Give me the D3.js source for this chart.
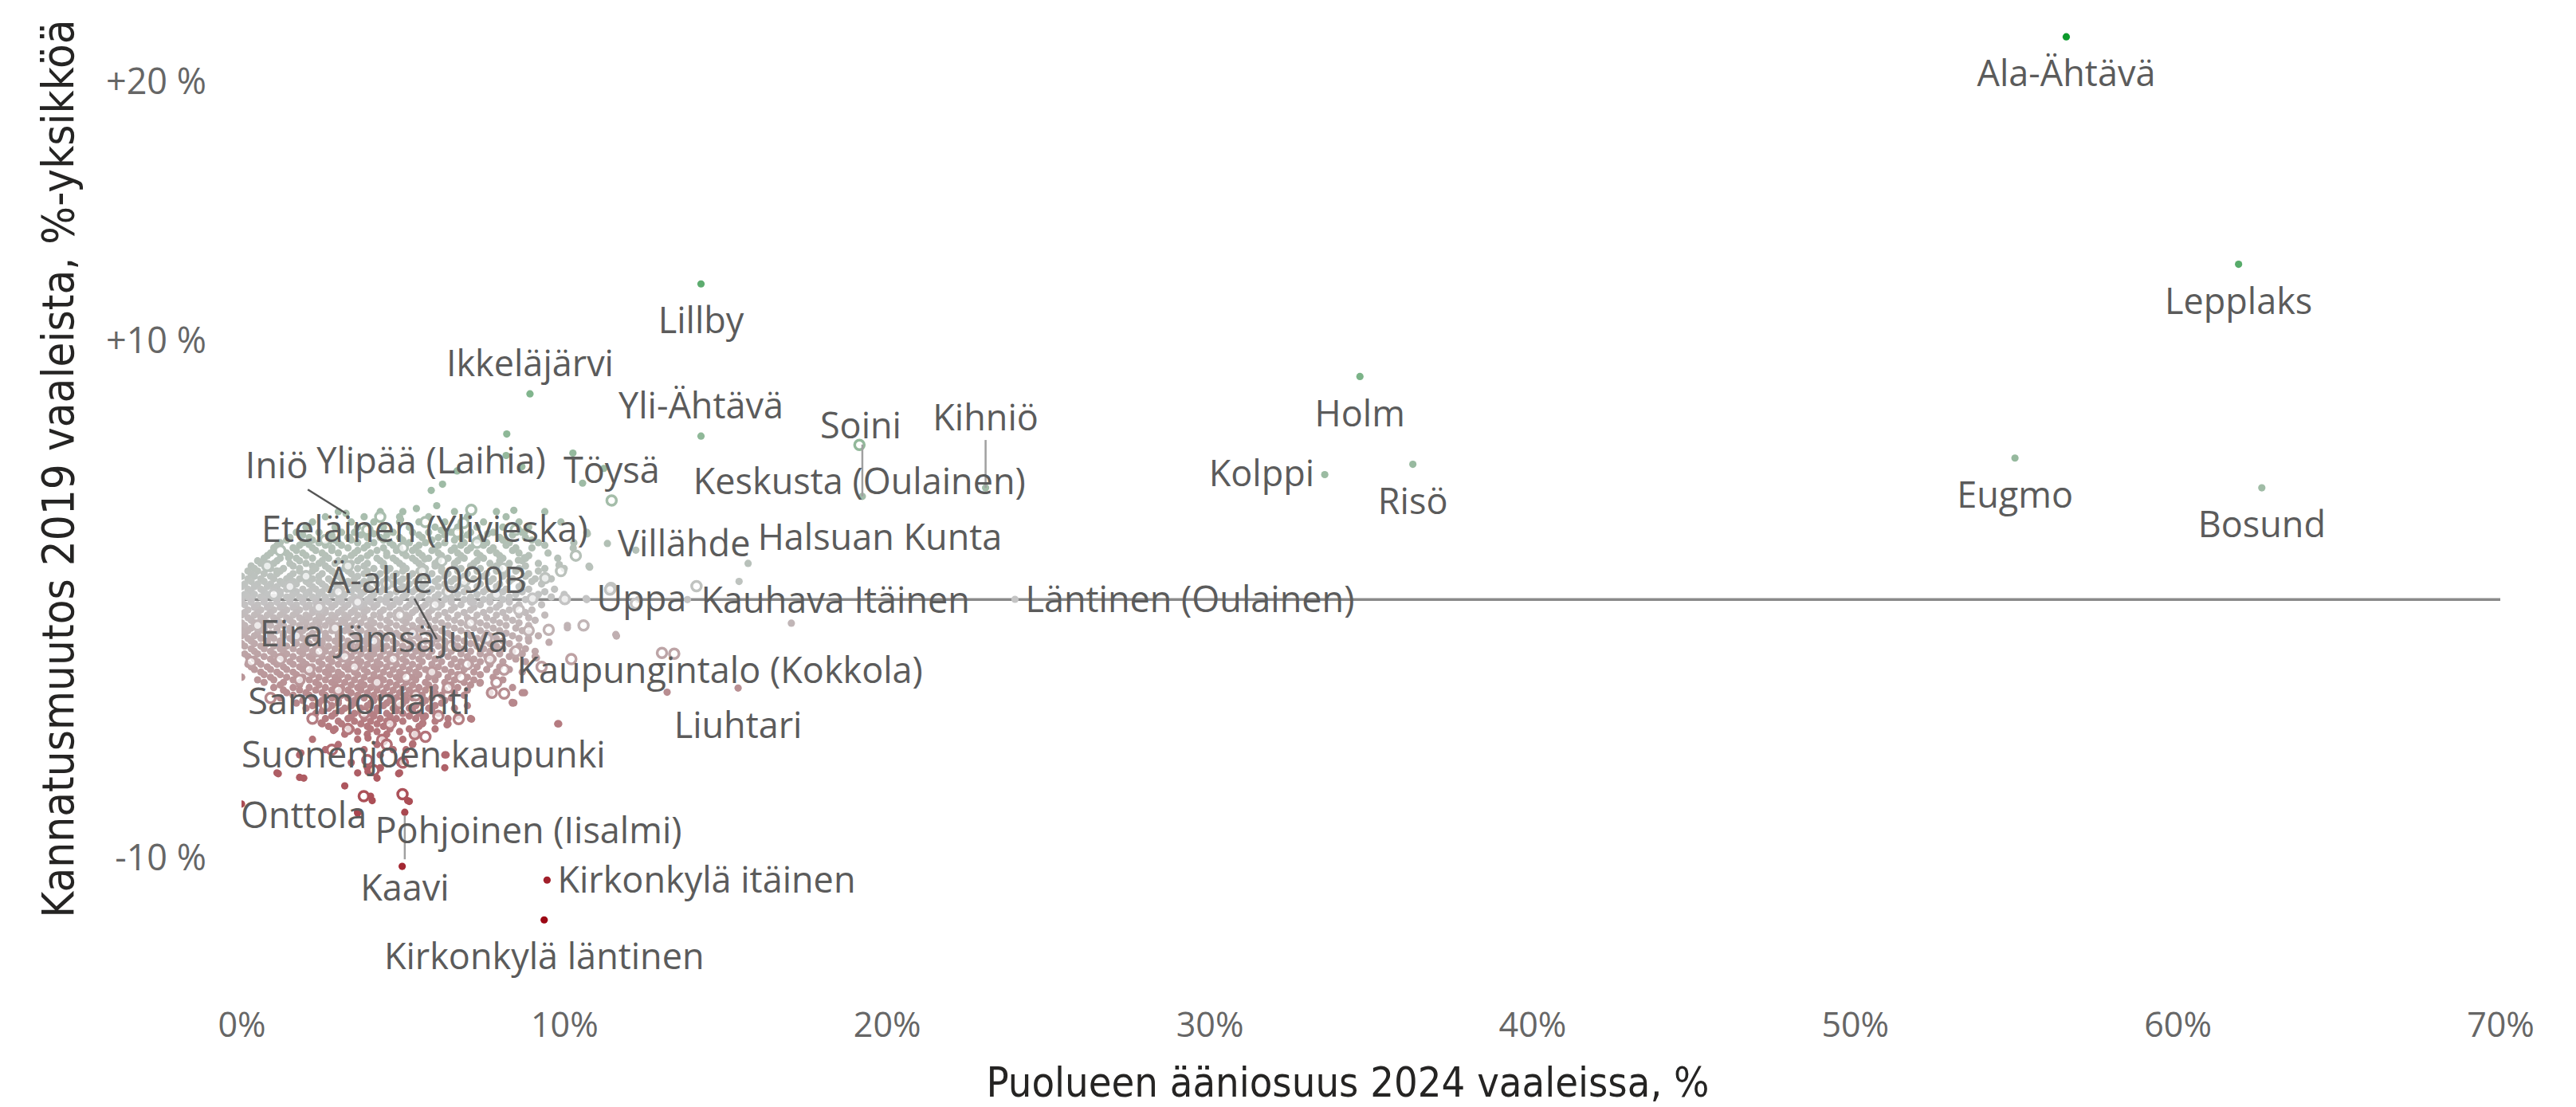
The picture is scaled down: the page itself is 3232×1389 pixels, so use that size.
<!DOCTYPE html>
<html>
<head>
<meta charset="utf-8">
<script src="https://cdnjs.cloudflare.com/ajax/libs/d3/7.8.5/d3.min.js"></script>
<style>
  html, body { margin: 0; padding: 0; background: #fff; }
  svg { display: block; }
  .axis-title { font-family: "DejaVu Sans Condensed", "DejaVu Sans", sans-serif; fill: #252423; }
  .pt-label { font-family: "Segoe UI", "Open Sans", sans-serif; fill: #5b5b5b; font-size: 45px; }
</style>
</head>
<body>
<div class="chart"></div>
<script>
// ---------------- data ----------------
var xTicks = [0, 10, 20, 30, 40, 50, 60, 70];
var yTicks = [-10, 0, 10, 20];

// named precincts (x = party share 2024 %, y = change since 2019, %-points)
var names = ["Ala-Ähtävä", "Lepplaks", "Eugmo", "Bosund", "Holm", "Risö", "Kolppi", "Lillby",
  "Ikkeläjärvi", "Yli-Ähtävä", "Soini", "Kihniö", "Keskusta (Oulainen)", "Töysä", "Iniö",
  "Ylipää (Laihia)", "Eteläinen (Ylivieska)", "Villähde", "Halsuan Kunta", "Ä-alue 090B", "Uppa",
  "Kauhava Itäinen", "Läntinen (Oulainen)", "Eira", "Jämsä", "Juva", "Kaupungintalo (Kokkola)",
  "Sammonlahti", "Liuhtari", "Suonenjoen kaupunki", "Onttola", "Pohjoinen (Iisalmi)", "Kaavi",
  "Kirkonkylä itäinen", "Kirkonkylä läntinen"];
var share2024 = [56.55, 61.89, 54.96, 62.61, 34.66, 36.30, 33.57, 14.24,
  8.94, 14.24, 19.24, 23.06, 19.15, 11.47, 3.24,
  5.88, 5.68, 11.34, 15.70, 6.05, 10.68,
  13.82, 23.97, 1.55, 4.47, 7.19, 8.14,
  3.65, 15.39, 5.64, 1.93, 4.99, 5.06,
  9.47, 9.38];
var change2019 = [21.75, 12.96, 5.47, 4.32, 8.62, 5.23, 4.83, 12.2,
  7.95, 6.32, 3.99, 4.32, 5.98, 3.83, 3.33,
  4.22, 1.57, 2.17, 1.40, -1.53, 0.04,
  0.0, 0.01, 0.12, -0.1, -0.1, -2.71,
  -2.5, -3.42, -4.56, -6.9, -7.52, -8.22,
  -10.84, -12.38];

// unlabeled outliers around the cloud [x, y]
var outlierDots = [[8.22,6.40],[8.2,5.57],[6.68,4.97],[8.69,5.14],[10.57,4.5],[11.23,5.07],[10.27,5.66],
  [6.23,4.46],[6.05,3.63],[5.42,3.52],[8.44,3.45],[12.22,1.91],[10.77,1.29],[9.85,1.35],[8.8,1.6],
  [8.58,1.52],[15.42,0.70],[11.62,-1.41],[10.1,-1.09],[9.14,-2.25],[13.19,-3.58],[9.83,-4.8],
  [8.44,-3.99],[17.04,-0.91],[4.98,-10.31],[3.6,-8.25],[0,-7.9],[4.05,-7.77],[5.15,-7.77],
  [1.14,-6.73],[1.8,-6.87],[4.87,-6.73],[4.3,-6.51],[3.92,-6.65],[6.34,-6.0],[5.31,-5.57],
  [3.92,-5.35],[3.35,-4.99],[2.85,-5.06],[2.47,-4.77],[1.84,-5.93],[7.13,-4.62],[6.37,-4.84],
  [5.62,-4.77],[7.39,-3.23],[8.39,-3.97],[8.77,-3.6],[8.89,-1.5],[9.53,-1.65],[9.4,0.82],
  [9.84,1.33],[10.79,1.25],[8.77,1.62],[0,-3.0],[0,-1.2],[1.46,1.62],[1.09,1.11],[2.09,2.13],
  [2.72,2.26],[3.35,2.4],[4.1,2.54],[4.93,3.09],[6.19,2.68],[7.63,2.54],[8.77,2.6],[10.28,1.99],
  [10.72,2.54],[11.6,-1.35]];

// bigger precincts drawn as rings [x, y]
var ringPts = [[7.12,3.47],[10.36,1.70],[6.88,2.96],[9.41,0.83],[14.1,0.52],[11.45,0.45],[9.02,0.04],
  [10.02,0.02],[12.22,-0.16],[9.52,-1.17],[11.42,0.39],[10.22,-2.3],[7.76,-3.6],[8.14,-3.63],
  [6.73,-4.62],[5.37,-5.2],[4.36,-5.42],[3.79,-7.6],[13.03,-2.06],[13.41,-2.09],
  [1.2,1.9],[2.6,2.3],[3.9,2.7],[5.0,2.0],[6.2,1.5],[7.3,2.2],[8.1,1.2],[2.0,0.9],[3.3,1.3],
  [4.5,0.6],[5.6,1.1],[6.9,0.7],[7.9,0.2],[8.6,-0.4],[1.0,0.2],[2.4,-0.3],[3.6,-0.1],[4.9,-0.6],
  [6.0,-0.2],[7.1,-0.9],[0.5,-1.0],[1.7,-1.4],[2.9,-1.1],[4.1,-1.6],[5.3,-1.3],[6.5,-1.8],
  [7.6,-1.5],[8.5,-2.0],[1.2,-2.3],[2.4,-2.0],[3.5,-2.6],[4.7,-2.3],[5.9,-2.8],[7.0,-2.5],
  [7.9,-3.2],[1.8,-3.1],[3.0,-3.5],[4.2,-3.2],[5.4,-3.7],[6.4,-3.4],[2.6,-4.1],[3.8,-4.4],
  [4.9,-4.0],[6.1,-4.5],[3.3,-5.0],[4.5,-5.6],[5.7,-5.3],[3.9,-6.2],[5.0,-6.3],[4.1,-6.6],
  [2.8,-5.8],[0.9,-3.8],[0.3,-2.4],[8.9,-1.2],[9.3,-2.6],[10.6,-1.0],[9.9,1.1],[0.8,1.3],
  [4.3,3.2],[5.7,3.0],[6.7,2.6],[8.5,2.7],[2.2,-4.6],[4.6,-4.8],[6.8,-3.0],[3.2,-2.2],
  [5.1,-3.0],[1.5,0.5],[3.0,0.3],[6.4,0.3],[7.7,-2.3],[2.1,-2.7]];

// dense cloud of small precincts, one row per y value: [y, [x, x, ...]]
var cloudRows = [
  [3.4, [3.0, 4.3, 5.0, 6.6, 7.9, 9.4]],
  [3.2, [2.6, 3.8, 4.9, 5.8, 7.0, 8.2]],
  [3.0, [2.2, 3.4, 4.1, 4.9, 5.5, 6.3, 7.5, 8.6, 9.9]],
  [2.8, [2.0, 2.9, 3.6, 4.4, 5.2, 6.0, 6.7, 7.3, 8.1, 8.9]],
  [2.6, [1.7, 2.4, 3.1, 3.5, 4.0, 4.7, 5.3, 5.8, 6.5, 7.1, 7.8, 8.7, 10.7]],
  [2.5, [1.9, 2.8, 3.7, 4.5, 5.5, 6.3, 7.0, 8.4]],
  [2.4, [1.5, 2.1, 2.7, 3.3, 3.9, 4.3, 4.9, 5.6, 6.1, 6.8, 7.4, 8.0, 8.8]],
  [2.3, [1.4, 2.2, 2.9, 3.4, 4.4, 5.0, 5.9, 6.6, 7.3, 8.1, 9.0]],
  [2.2, [1.2, 1.9, 2.4, 3.0, 3.6, 4.1, 4.6, 5.2, 5.7, 6.3, 6.9, 7.6, 8.3, 9.2, 10.3]],
  [2.1, [1.1, 1.8, 2.6, 3.1, 3.9, 4.7, 5.5, 6.1, 6.8, 7.5, 8.2, 9.4]],
  [2.0, [1.0, 1.6, 2.2, 2.8, 3.3, 3.8, 4.4, 4.9, 5.4, 6.0, 6.6, 7.1, 7.8, 8.5, 9.0]],
  [1.9, [1.0, 1.7, 2.3, 2.8, 3.6, 4.2, 4.8, 5.3, 5.9, 6.5, 7.0, 7.7, 8.4]],
  [1.8, [0.9, 1.4, 1.9, 2.5, 3.0, 3.5, 4.0, 4.5, 5.0, 5.5, 6.1, 6.7, 7.3, 7.9, 8.6, 9.5]],
  [1.7, [0.8, 1.5, 2.0, 2.6, 3.4, 3.9, 4.5, 5.1, 5.6, 6.2, 6.8, 7.4, 8.0, 8.9]],
  [1.6, [0.7, 1.2, 1.7, 2.2, 2.7, 3.2, 3.7, 4.2, 4.7, 5.3, 5.8, 6.4, 6.9, 7.5, 8.1, 8.8, 9.8]],
  [1.5, [0.5, 1.1, 1.8, 2.5, 3.0, 3.6, 4.3, 4.8, 5.4, 6.1, 6.7, 7.3, 8.0, 8.7]],
  [1.4, [0.6, 1.0, 1.5, 2.0, 2.4, 2.9, 3.4, 3.9, 4.4, 4.9, 5.5, 6.0, 6.6, 7.2, 7.7, 8.3, 9.2]],
  [1.3, [0.3, 0.8, 1.6, 2.2, 2.6, 3.3, 3.8, 4.4, 5.0, 5.6, 6.0, 6.6, 7.1, 7.9, 8.8]],
  [1.2, [0.4, 0.9, 1.3, 1.8, 2.3, 2.7, 3.2, 3.6, 4.1, 4.6, 5.1, 5.7, 6.2, 6.8, 7.4, 8.0, 8.6, 9.4, 10.0]],
  [1.1, [0.2, 0.5, 1.2, 1.8, 2.2, 2.8, 3.3, 3.9, 4.5, 5.0, 5.5, 6.2, 6.7, 7.3, 7.9, 8.5, 9.2]],
  [1.0, [0.3, 0.7, 1.1, 1.6, 2.0, 2.5, 2.9, 3.4, 3.8, 4.3, 4.8, 5.3, 5.9, 6.4, 7.0, 7.6, 8.2, 8.9]],
  [0.9, [0.0, 0.4, 0.9, 1.5, 2.0, 2.4, 3.0, 3.6, 4.2, 4.7, 5.2, 5.7, 6.3, 6.9, 7.5, 8.1, 8.8]],
  [0.8, [0.2, 0.6, 1.0, 1.4, 1.8, 2.2, 2.7, 3.1, 3.5, 4.0, 4.5, 5.0, 5.5, 6.1, 6.6, 7.2, 7.8, 8.4, 9.1, 9.6]],
  [0.7, [0.3, 0.7, 1.2, 1.6, 2.0, 2.4, 2.8, 3.3, 3.8, 4.4, 4.9, 5.4, 6.0, 6.5, 7.0, 7.7, 8.3, 9.0]],
  [0.6, [0.1, 0.5, 0.9, 1.3, 1.7, 2.1, 2.5, 2.9, 3.3, 3.7, 4.2, 4.7, 5.2, 5.7, 6.3, 6.8, 7.4, 8.0, 8.7, 9.3]],
  [0.5, [0.0, 0.4, 0.8, 1.1, 1.5, 2.2, 2.6, 3.0, 3.5, 3.9, 4.5, 5.0, 5.6, 6.1, 6.7, 7.3, 7.9, 8.6]],
  [0.4, [0.2, 0.6, 1.0, 1.4, 1.9, 2.3, 2.7, 3.1, 3.6, 4.0, 4.4, 4.9, 5.4, 5.9, 6.5, 7.0, 7.6, 8.2, 8.9, 9.7, 11.4]],
  [0.3, [0.3, 0.7, 1.2, 1.7, 2.1, 2.5, 2.9, 3.4, 3.8, 4.3, 4.8, 5.3, 5.8, 6.3, 6.9, 7.5, 8.1, 8.7, 9.4]],
  [0.2, [0.1, 0.4, 0.8, 1.2, 1.6, 2.0, 2.4, 2.8, 3.2, 3.7, 4.1, 4.6, 5.1, 5.6, 6.1, 6.7, 7.3, 7.9, 8.5, 9.2, 10.0]],
  [0.1, [0.2, 0.6, 1.0, 1.4, 1.8, 2.2, 2.6, 3.1, 3.5, 4.0, 4.5, 5.0, 5.5, 6.0, 6.5, 7.1, 7.7, 8.3, 9.0, 9.6]],
  [0.0, [0.0, 0.3, 0.7, 1.1, 1.5, 1.9, 2.3, 2.6, 3.0, 3.4, 3.9, 4.3, 4.8, 5.3, 5.8, 6.3, 6.9, 7.5, 8.1, 8.8, 10.0, 10.7, 12.3]],
  [-0.1, [0.0, 0.3, 0.7, 1.1, 1.5, 1.9, 2.3, 2.7, 3.1, 3.6, 4.0, 4.5, 4.9, 5.4, 6.0, 6.5, 7.1, 7.7, 8.3, 9.0]],
  [-0.2, [0.1, 0.5, 0.9, 1.3, 1.7, 2.1, 2.5, 2.9, 3.3, 3.8, 4.2, 4.7, 5.2, 5.7, 6.2, 6.8, 7.4, 8.0, 8.6, 9.3]],
  [-0.3, [0.4, 0.8, 1.2, 1.6, 2.0, 2.4, 2.8, 3.2, 3.7, 4.1, 4.6, 5.1, 5.6, 6.1, 6.6, 7.2, 7.9, 8.5]],
  [-0.4, [0.2, 0.6, 1.0, 1.4, 1.8, 2.2, 2.6, 3.1, 3.5, 3.9, 4.4, 4.9, 5.4, 5.9, 6.5, 7.1, 7.7, 8.3, 9.0]],
  [-0.5, [0.1, 0.5, 0.9, 1.3, 1.7, 2.2, 2.6, 3.0, 3.4, 3.8, 4.3, 4.8, 5.3, 5.8, 6.3, 6.9, 7.5, 8.1, 8.8]],
  [-0.6, [0.0, 0.4, 0.8, 1.2, 1.6, 2.0, 2.4, 2.8, 3.2, 3.6, 4.1, 4.6, 5.1, 5.6, 6.1, 6.7, 7.3, 7.9, 8.6, 9.4]],
  [-0.7, [0.2, 0.6, 1.0, 1.4, 1.8, 2.1, 2.5, 2.9, 3.3, 3.8, 4.3, 4.8, 5.2, 5.8, 6.4, 7.0, 7.6, 8.2, 8.9]],
  [-0.8, [0.3, 0.7, 1.1, 1.5, 1.9, 2.3, 2.7, 3.1, 3.5, 4.0, 4.5, 5.0, 5.5, 6.0, 6.6, 7.2, 7.8, 8.4, 9.1]],
  [-0.9, [0.0, 0.4, 0.8, 1.2, 1.6, 2.0, 2.4, 2.8, 3.2, 3.7, 4.1, 4.6, 5.1, 5.6, 6.2, 6.8, 7.4, 8.0, 8.6]],
  [-1.0, [0.1, 0.5, 0.9, 1.3, 1.8, 2.2, 2.6, 3.0, 3.4, 3.9, 4.3, 4.8, 5.3, 5.8, 6.4, 7.0, 7.6, 8.2, 8.9, 10.1]],
  [-1.1, [0.3, 0.7, 1.1, 1.5, 2.0, 2.4, 2.9, 3.3, 3.6, 4.0, 4.5, 5.0, 5.5, 6.0, 6.6, 7.2, 7.8, 8.5]],
  [-1.2, [0.2, 0.7, 1.1, 1.5, 1.9, 2.4, 2.8, 3.2, 3.7, 4.1, 4.6, 5.1, 5.6, 6.2, 6.8, 7.4, 8.0, 8.7]],
  [-1.3, [0.1, 0.5, 0.9, 1.3, 1.8, 2.2, 2.6, 3.0, 3.4, 3.9, 4.3, 4.8, 5.3, 5.8, 6.4, 7.0, 7.6, 8.2, 8.9]],
  [-1.4, [0.0, 0.4, 0.9, 1.3, 1.7, 2.1, 2.6, 3.0, 3.5, 3.9, 4.4, 4.9, 5.4, 6.0, 6.5, 7.1, 7.7, 8.4, 9.2]],
  [-1.5, [0.2, 0.6, 1.0, 1.5, 1.9, 2.3, 2.7, 3.1, 3.6, 4.0, 4.5, 5.0, 5.5, 6.1, 6.7, 7.3, 7.9, 8.6]],
  [-1.6, [0.3, 0.8, 1.2, 1.6, 2.0, 2.5, 2.9, 3.3, 3.8, 4.2, 4.7, 5.2, 5.7, 6.3, 6.9, 7.5, 8.1, 8.9]],
  [-1.7, [0.0, 0.4, 0.8, 1.2, 1.7, 2.1, 2.5, 3.0, 3.4, 3.9, 4.3, 4.8, 5.3, 5.9, 6.5, 7.1, 7.7, 8.3]],
  [-1.8, [0.1, 0.6, 1.0, 1.4, 1.9, 2.3, 2.7, 3.2, 3.6, 4.1, 4.5, 5.0, 5.5, 6.1, 6.7, 7.3, 7.9, 8.6]],
  [-1.9, [0.3, 0.7, 1.2, 1.6, 2.0, 2.5, 2.9, 3.4, 3.8, 4.2, 4.7, 5.2, 5.7, 6.3, 6.9, 7.5, 8.1, 8.8]],
  [-2.0, [0.4, 0.9, 1.3, 1.8, 2.2, 2.6, 3.1, 3.5, 4.0, 4.4, 4.9, 5.4, 5.9, 6.5, 7.1, 7.7, 8.4, 9.1]],
  [-2.1, [0.1, 0.5, 1.0, 1.4, 1.9, 2.3, 2.8, 3.2, 3.7, 4.1, 4.6, 5.1, 5.6, 6.2, 6.8, 7.4, 8.0, 8.7]],
  [-2.2, [0.2, 0.7, 1.2, 1.6, 2.1, 2.5, 3.0, 3.4, 3.9, 4.3, 4.8, 5.3, 5.8, 6.4, 7.0, 7.6, 8.3, 9.1]],
  [-2.3, [0.4, 0.9, 1.3, 1.8, 2.2, 2.7, 3.1, 3.6, 4.0, 4.5, 5.0, 5.5, 6.0, 6.6, 7.2, 7.8, 8.5]],
  [-2.4, [0.5, 1.0, 1.5, 1.9, 2.4, 2.8, 3.3, 3.7, 4.2, 4.6, 5.1, 5.6, 6.2, 6.8, 7.4, 8.1, 8.8]],
  [-2.5, [0.2, 0.6, 1.1, 1.6, 2.0, 2.5, 3.0, 3.4, 3.9, 4.3, 4.8, 5.3, 5.9, 6.5, 7.1, 7.7]],
  [-2.6, [0.3, 0.8, 1.3, 1.8, 2.2, 2.7, 3.2, 3.6, 4.1, 4.5, 5.0, 5.5, 6.1, 6.7, 7.3, 8.0]],
  [-2.7, [0.4, 0.9, 1.4, 1.9, 2.4, 2.8, 3.3, 3.8, 4.2, 4.7, 5.2, 5.7, 6.3, 6.9, 7.6, 8.3]],
  [-2.8, [0.6, 1.1, 1.6, 2.1, 2.6, 3.0, 3.5, 3.9, 4.4, 4.9, 5.4, 5.9, 6.5, 7.2, 7.9, 8.7]],
  [-2.9, [0.7, 1.2, 1.7, 2.2, 2.7, 3.1, 3.6, 4.1, 4.6, 5.0, 5.5, 6.1, 6.7, 7.4]],
  [-3.0, [0.0, 0.9, 1.4, 1.9, 2.4, 2.9, 3.3, 3.8, 4.3, 4.8, 5.3, 5.8, 6.4, 7.0, 7.8]],
  [-3.1, [0.5, 1.0, 1.6, 2.1, 2.6, 3.0, 3.5, 4.0, 4.4, 4.9, 5.4, 6.0, 6.6, 7.2, 8.1]],
  [-3.2, [0.7, 1.3, 1.8, 2.3, 2.8, 3.2, 3.7, 4.2, 4.6, 5.1, 5.7, 6.3, 6.9, 7.4]],
  [-3.3, [1.2, 1.8, 2.4, 2.9, 3.4, 3.8, 4.3, 4.8, 5.3, 5.8, 6.5, 7.1]],
  [-3.4, [1.0, 1.6, 2.1, 2.6, 3.1, 3.6, 4.0, 4.5, 5.0, 5.5, 6.0, 6.7, 8.4]],
  [-3.5, [1.3, 1.8, 2.3, 2.8, 3.3, 3.7, 4.2, 4.7, 5.2, 5.7, 6.3, 7.0]],
  [-3.6, [1.4, 2.0, 2.5, 3.0, 3.4, 3.9, 4.4, 4.9, 5.4, 6.0, 6.6, 7.7, 8.7]],
  [-3.7, [1.6, 2.1, 2.6, 3.1, 3.6, 4.1, 4.6, 5.1, 5.6, 6.2, 6.9]],
  [-3.8, [1.2, 2.2, 2.8, 3.3, 3.8, 4.3, 4.8, 5.3, 5.9, 6.5]],
  [-3.9, [1.9, 2.5, 3.0, 3.5, 4.1, 4.6, 5.1, 5.7, 6.3]],
  [-4.0, [1.7, 2.4, 3.0, 3.5, 4.0, 4.5, 5.0, 5.6, 6.2, 8.4]],
  [-4.1, [2.2, 2.8, 3.4, 3.9, 4.4, 4.9, 5.4, 6.0, 7.0]],
  [-4.2, [2.0, 2.7, 3.2, 3.7, 4.2, 4.7, 5.2, 5.8, 6.6]],
  [-4.3, [2.5, 3.1, 3.7, 4.2, 4.8, 5.3, 5.9]],
  [-4.4, [2.3, 2.9, 3.5, 4.0, 4.5, 5.0, 5.5, 6.1]],
  [-4.5, [2.8, 3.4, 4.1, 4.6, 5.2, 5.7, 6.7]],
  [-4.6, [2.6, 3.3, 3.8, 4.3, 4.8, 5.4, 6.4, 7.1]],
  [-4.7, [3.0, 3.5, 4.0, 4.5, 5.0, 6.0]],
  [-4.8, [2.5, 3.1, 3.7, 4.2, 4.7, 5.6, 6.4, 9.8]],
  [-4.9, [2.7, 3.3, 3.9, 4.4, 5.5]],
  [-5.0, [2.9, 3.4, 4.0, 4.6, 5.2, 6.0]],
  [-5.1, [3.6, 4.2, 4.9]],
  [-5.2, [3.2, 3.9, 4.5, 5.4]],
  [-5.4, [2.2, 3.6, 4.4, 5.0]],
  [-5.6, [3.0, 4.2, 5.3]],
  [-5.8, [2.6, 3.8, 4.7, 5.1]],
  [-6.0, [1.8, 4.3, 6.3]],
  [-6.3, [3.4, 4.9]],
  [-6.5, [3.9, 4.3, 6.3]],
  [-6.7, [1.1, 3.6, 4.9]],
  [-6.9, [4.2]],
  [-7.2, [3.2]],
  [-7.6, [4.0]],
  [-7.8, [5.2]],
  [-8.2, [3.6]]
];

// ---------------- layout ----------------
var W = 3232, H = 1389;
var below = { dx: 0, dy: 46, anchor: "middle" },
    above = { dx: 0, dy: -38, anchor: "middle" },
    right = { dx: 13, dy: 0, anchor: "start" },
    left = { dx: -13, dy: -2, anchor: "end" };
var placement = {
  "Ala-Ähtävä": below, "Lepplaks": below, "Eugmo": below, "Bosund": below, "Holm": below,
  "Risö": below, "Kolppi": left, "Lillby": below, "Ikkeläjärvi": above, "Yli-Ähtävä": above,
  "Soini": { dx: -2, dy: -89, anchor: "middle", lead: [0, 0, 0, -65] },
  "Kihniö": { dx: 0, dy: -88, anchor: "middle", lead: [0, 0, 0, -60] },
  "Keskusta (Oulainen)": below, "Töysä": above,
  "Iniö": { dx: -87, dy: -60, anchor: "middle", lead: [-48, -30, 0, 0] },
  "Ylipää (Laihia)": above, "Eteläinen (Ylivieska)": above, "Villähde": right,
  "Halsuan Kunta": { dx: 12, dy: -33, anchor: "start" },
  "Ä-alue 090B": { dx: -12, dy: -74, anchor: "middle", lead: [-28, -51, 0, 0] },
  "Uppa": right, "Kauhava Itäinen": { dx: 17, dy: 0, anchor: "start" }, "Läntinen (Oulainen)": right,
  "Eira": below, "Jämsä": below, "Juva": below, "Kaupungintalo (Kokkola)": { dx: 16, dy: 0, anchor: "start" },
  "Sammonlahti": below, "Liuhtari": below, "Suonenjoen kaupunki": below, "Onttola": below,
  "Pohjoinen (Iisalmi)": { dx: 158, dy: 45, anchor: "middle" },
  "Kaavi": { dx: 0, dy: 95, anchor: "middle", lead: [0, 4, 0, 59] },
  "Kirkonkylä itäinen": right, "Kirkonkylä läntinen": below
};
var ringNames = ["Keskusta (Oulainen)", "Töysä", "Kaupungintalo (Kokkola)", "Pohjoinen (Iisalmi)"];

var x = d3.scaleLinear().domain([0, 70]).range([303, 3137]);
var y = d3.scaleLinear().domain([-10, 20]).range([1077, 103]);
var color = d3.scaleLinear()
  .domain([-12.4, 0, 21.8])
  .range(["#9c0714", "#c4c4c4", "#0c9a2c"])
  .clamp(true);

var svg = d3.select(".chart").append("svg")
  .attr("width", W)
  .attr("height", H)
  .style("background", "#fff");

svg.append("clipPath")
  .attr("id", "clip")
  .append("rect")
  .attr("x", x(0))
  .attr("y", 0)
  .attr("width", W - x(0))
  .attr("height", H);

// axes (labels only)
var xAxis = d3.axisBottom(x)
  .tickValues(xTicks)
  .tickSize(0)
  .tickPadding(0)
  .tickFormat(function (d) { return d + "%"; });

var yAxis = d3.axisLeft(y)
  .tickValues(yTicks)
  .tickSize(0)
  .tickPadding(0)
  .tickFormat(function (d) {
    if (d > 0) return "+" + d + " %";
    if (d < 0) return "-" + Math.abs(d) + " %";
    return "";
  });

var gx = svg.append("g")
  .attr("transform", "translate(0,1270)")
  .call(xAxis);
var gy = svg.append("g")
  .attr("transform", "translate(259,0)")
  .call(yAxis);

[gx, gy].forEach(function (g) {
  g.select(".domain").remove();
  g.attr("font-family", "'Segoe UI', 'Open Sans', sans-serif")
    .style("color", "#666");
});
gx.attr("font-size", 43);
gy.attr("font-size", 45);

// axis titles
svg.append("text")
  .attr("class", "axis-title")
  .attr("x", 1691)
  .attr("y", 1376)
  .attr("text-anchor", "middle")
  .attr("font-size", 52)
  .text("Puolueen ääniosuus 2024 vaaleissa, %");

svg.append("text")
  .attr("class", "axis-title")
  .attr("transform", "translate(92,588) rotate(-90)")
  .attr("text-anchor", "middle")
  .attr("font-size", 56)
  .text("Kannatusmuutos 2019 vaaleista, %-yksikköä");

// zero line
svg.append("line")
  .attr("x1", x(0))
  .attr("x2", x(70))
  .attr("y1", y(0))
  .attr("y2", y(0))
  .attr("stroke", "#8a8a8a")
  .attr("stroke-width", 3.5);

// points
var labeled = names.map(function (n, i) {
  return { name: n, x: share2024[i], y: change2019[i] };
});
var cloud = [];
cloudRows.forEach(function (row) {
  row[1].forEach(function (xv) { cloud.push({ x: xv, y: row[0] }); });
});
outlierDots.forEach(function (p) { cloud.push({ x: p[0], y: p[1] }); });
labeled.forEach(function (d) {
  if (ringNames.indexOf(d.name) < 0) cloud.push(d);
});
var rings = ringPts.map(function (p) { return { x: p[0], y: p[1] }; });
labeled.forEach(function (d) {
  if (ringNames.indexOf(d.name) >= 0) rings.push(d);
});

var plot = svg.append("g").attr("clip-path", "url(#clip)");

plot.selectAll(".dot")
  .data(cloud)
  .enter()
  .append("circle")
  .attr("class", "dot")
  .attr("cx", function (d) { return x(d.x); })
  .attr("cy", function (d) { return y(d.y); })
  .attr("r", 4.6)
  .attr("fill", function (d) { return color(d.y); });

plot.selectAll(".ring")
  .data(rings)
  .enter()
  .append("circle")
  .attr("class", "ring")
  .attr("cx", function (d) { return x(d.x); })
  .attr("cy", function (d) { return y(d.y); })
  .attr("r", 6)
  .attr("fill", "#fff")
  .attr("fill-opacity", 0.7)
  .attr("stroke", function (d) { return color(d.y); })
  .attr("stroke-width", 3.5);

// leader lines and labels
var leads = labeled.filter(function (d) { return placement[d.name].lead; });
svg.selectAll(".lead")
  .data(leads)
  .enter()
  .append("line")
  .attr("class", "lead")
  .attr("x1", function (d) { return x(d.x) + placement[d.name].lead[0]; })
  .attr("y1", function (d) { return y(d.y) + placement[d.name].lead[1]; })
  .attr("x2", function (d) { return x(d.x) + placement[d.name].lead[2]; })
  .attr("y2", function (d) { return y(d.y) + placement[d.name].lead[3]; })
  .attr("stroke", function (d) { return d.name === "Iniö" || d.name === "Ä-alue 090B" ? "#555" : "#a0a0a0"; })
  .attr("stroke-width", 2.5);

svg.selectAll(".pt-label")
  .data(labeled)
  .enter()
  .append("text")
  .attr("class", "pt-label")
  .attr("x", function (d) { return x(d.x) + placement[d.name].dx; })
  .attr("y", function (d) { return y(d.y) + placement[d.name].dy; })
  .attr("dy", "0.36em")
  .attr("text-anchor", function (d) { return placement[d.name].anchor; })
  .text(function (d) { return d.name; });
</script>
</body>
</html>
